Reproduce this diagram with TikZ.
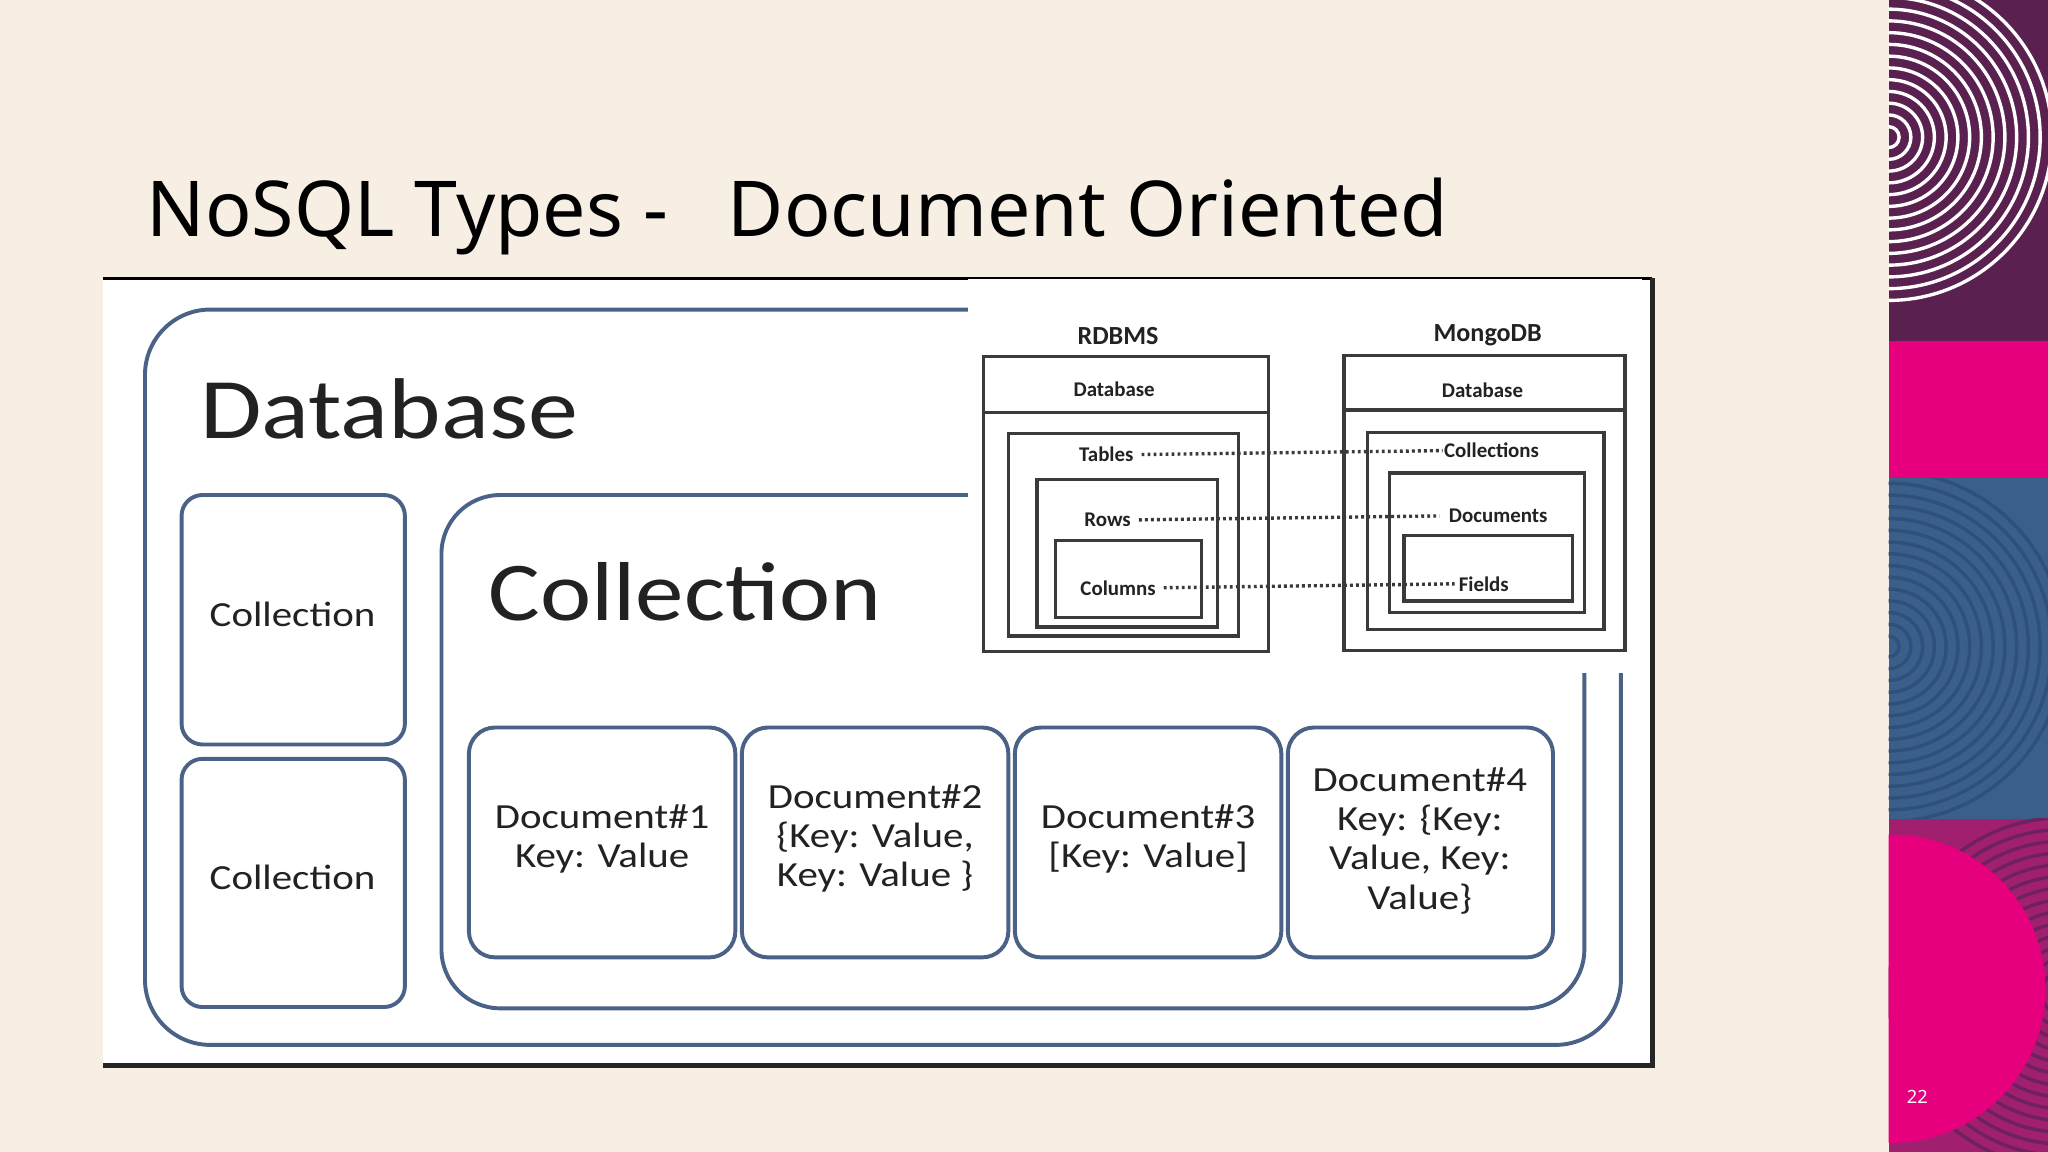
\documentclass[tikz,border=0pt]{standalone}
\usepackage{fontspec}
\setmainfont{Noto Sans}
\newfontfamily\carl{Carlito}
\newcommand{\widetxt}[1]{\scalebox{1.16}[1]{\begin{tabular}{@{}c@{}}#1\end{tabular}}}
\begin{document}
\begin{tikzpicture}[x=1pt,y=-1pt,
  bl/.style={draw=blcol,line width=3pt,rounded corners=#1},
  bl/.default=18pt,
  gb/.style={draw=gbcol,line width=2.6pt},
  lab/.style={font=\carl\fontsize{16}{18}\selectfont\bfseries,text=txcol,inner sep=1pt},
  doc/.style={font=\carl\fontsize{27}{30}\selectfont,text=txcol,align=center},
  dotl/.style={draw=gbcol,line width=2.6pt,dash pattern=on 2.2pt off 2.4pt}]
\definecolor{bg}{HTML}{F7EFE4}
\definecolor{blcol}{HTML}{4A6285}
\definecolor{gbcol}{HTML}{3A3A3A}
\definecolor{txcol}{HTML}{222222}
\definecolor{pp}{HTML}{5A2150}
\definecolor{mg}{HTML}{E6007E}
\definecolor{bb}{HTML}{3A5F8A}
\definecolor{bbd}{HTML}{2F5079}
\definecolor{pm}{HTML}{A01F6E}
\definecolor{pmd}{HTML}{6E2160}
\useasboundingbox (0,0) rectangle (1568,882);
\fill[bg] (0,0) rectangle (1568,882);
% right strip
\fill[pp] (1446,0) rectangle (1568,261);
\fill[mg] (1446,261) rectangle (1568,366);
\fill[bb] (1446,366) rectangle (1568,627);
\fill[pm] (1446,627) rectangle (1568,882);
\begin{scope}
\clip (1446,0) rectangle (1568,261);
\foreach \r in {8,17,...,125} \draw[white,line width=2.6pt] (1446,105) circle (\r);
\end{scope}
\begin{scope}
\clip (1446,366) rectangle (1568,627);
\foreach \r in {8,17,...,135} \draw[bbd,line width=2.6pt] (1446,495) circle (\r);
\end{scope}
\begin{scope}
\clip (1446,627) rectangle (1568,882);
\foreach \r in {8,17,...,140} \draw[pmd,line width=2.6pt] (1580,760) circle (\r);
\fill[mg] (1448,757) circle (118);
\end{scope}
\node[text=white,font=\fontsize{14}{16}\selectfont] (pg) at (1468,840) {22};
% title
\node[anchor=base west,inner sep=0,font=\fontsize{59}{66}\selectfont] (title) at (112,181) {NoSQL Types -\ \ \ Document Oriented};
% white picture
\fill[white] (79,213) rectangle (1265,816);
\draw[black,line width=2.5pt] (79,213) -- (1265,213);
\draw[black!85,line width=4pt] (1265,213) -- (1265,816) -- (79,816);
% database
\draw[bl=50pt] (111,237) rectangle (1241,800);
\node[anchor=base west,font=\carl\fontsize{66}{70}\selectfont,text=txcol,inner sep=0] (dbt) at (153,328) {\widetxt{Database}};
\draw[bl=16pt] (139,379) rectangle (310,570);
\node[doc] (c1) at (224,474) {\widetxt{Collection}};
\draw[bl=16pt] (139,581) rectangle (310,771);
\node[doc] (c2) at (224,675) {\widetxt{Collection}};
\draw[bl=45pt] (338,379) rectangle (1213,772);
\node[anchor=base west,font=\carl\fontsize{64}{70}\selectfont,text=txcol,inner sep=0] (colt) at (374,467) {\widetxt{Collection}};
\draw[bl=20pt] (359,557) rectangle (563,733);
\draw[bl=20pt] (568,557) rectangle (772,733);
\draw[bl=20pt] (777,557) rectangle (981,733);
\draw[bl=20pt] (986,557) rectangle (1189,733);
\node[doc] (d1) at (461,643) {\widetxt{Document\#1\\Key: Value}};
\node[doc] (d2) at (670,643) {\widetxt{Document\#2\\\{Key: Value,\\Key: Value \}}};
\node[doc] (d3) at (879,643) {\widetxt{Document\#3\\{}[Key: Value]}};
\node[doc] (d4) at (1087,645) {\widetxt{Document\#4\\Key: \{Key:\\Value, Key:\\Value\}}};
% comparison panel
\fill[white] (741,213.8) rectangle (1257,515);
\node[lab,font=\carl\fontsize{20}{22}\selectfont\bfseries] (rd) at (856,257) {RDBMS};
\node[lab,font=\carl\fontsize{20}{22}\selectfont\bfseries] (mo) at (1139,257) {MongoDB};
\draw[gb] (753,273) rectangle (971,499); \draw[gb] (753,316) -- (971,316);
\draw[gb] (772,332) rectangle (948,487);
\draw[gb] (794,367) rectangle (932,480);
\draw[gb] (808,414) rectangle (920,473);
\node[lab] (rdb) at (853,298) {Database};
\node[lab] (tab) at (847,348) {Tables};
\node[lab] (row) at (848,398) {Rows};
\node[lab] (colm) at (856,450) {Columns};
\draw[gb] (1029,272) rectangle (1244,498); \draw[gb] (1029,314) -- (1244,314);
\draw[gb] (1047,331) rectangle (1228,482);
\draw[gb] (1064,362) rectangle (1213,469);
\draw[gb] (1075,410) rectangle (1204,460);
\node[lab] (mdb) at (1135,299) {Database};
\node[lab] (mcol) at (1142,345) {Collections};
\node[lab] (mdoc) at (1147,395) {Documents};
\node[lab] (mfld) at (1136,447) {Fields};
\draw[dotl] ([xshift=5pt]tab.east) -- (mcol.west);
\draw[dotl] ([xshift=5pt]row.east) -- ([xshift=-6pt]mdoc.west);
\draw[dotl] ([xshift=5pt]colm.east) -- ([xshift=-2pt]mfld.west);
\end{tikzpicture}
\end{document}
